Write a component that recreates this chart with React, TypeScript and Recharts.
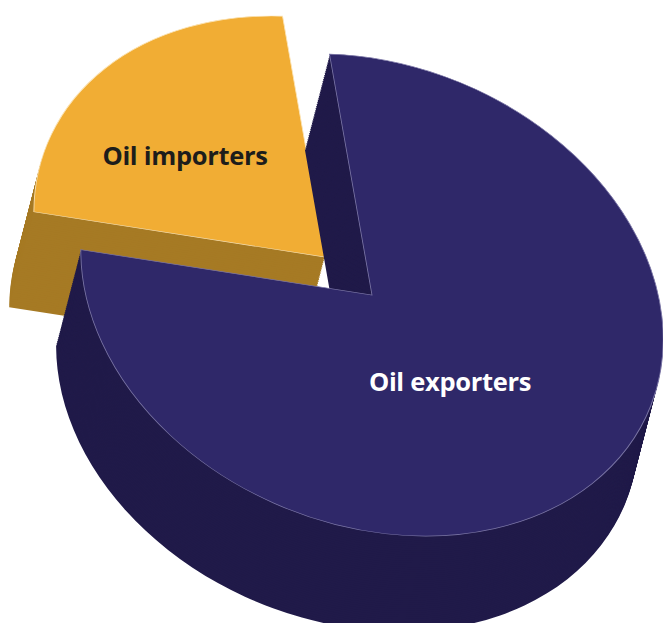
import { PieChart, Pie, Cell } from 'recharts'

const categories = ['Oil importers', 'Oil exporters']
const shares = [22.6, 77.4]
const topColors = ['#f1ad34', '#2f2869']
const sideColors = ['#a67a24', '#201a49']
const edgeColors = ['#fbe3b4', '#7b76a6']
const labelColors = ['#1d1d1b', '#ffffff']

const data = categories.map((name, i) => ({ name, value: shares[i] }))

// circle -> tilted ellipse (css / svg matrix a b c d) and its inverse
const M = [1.39077, 0.56191, -0.4308, 1.06626]
const MI = [0.61813, -0.32575, 0.24974, 0.80625]

const R = 200
const CX = 260
const CY = 230
const START = 115.6
const EXPLODE = [{ x: -38.5, y: -15.3 }, { x: 0, y: 0 }]
const DEPTH = { x: 8.6, y: 85 }
const LAYERS = 46
// label spot from slice apex, in circle space
const LABEL_POS = [
  [-112, -36.6],
  [69.7, 43.9],
]

const renderLabel = (p: any) => {
  const i = p.index
  const x = p.cx + LABEL_POS[i][0]
  const y = p.cy + LABEL_POS[i][1]
  return (
    <text
      x={0}
      y={0}
      transform={`translate(${x} ${y}) matrix(${MI.join(' ')} 0 0)`}
      textAnchor="middle"
      dominantBaseline="central"
      fill={labelColors[i]}
      style={{ fontFamily: '"Open Sans", sans-serif', fontWeight: 700, fontSize: 25.5, letterSpacing: -0.3 }}
    >
      {categories[i]}
    </text>
  )
}

function slab(idx: number) {
  const ox = EXPLODE[idx].x
  const oy = EXPLODE[idx].y
  const out = []
  for (let k = LAYERS; k >= 1; k--) {
    const f = k / LAYERS
    out.push(
      <Pie
        key={`side-${idx}-${k}`}
        data={data}
        dataKey="value"
        nameKey="name"
        cx={CX + ox + DEPTH.x * f}
        cy={CY + oy + DEPTH.y * f}
        outerRadius={R}
        startAngle={START}
        endAngle={START + 360}
        stroke="none"
        isAnimationActive={false}
      >
        {data.map((_, i) => (
          <Cell key={i} fill={i === idx ? sideColors[i] : 'none'} />
        ))}
      </Pie>
    )
  }
  out.push(
    <Pie
      key={`top-${idx}`}
      data={data}
      dataKey="value"
      nameKey="name"
      cx={CX + ox}
      cy={CY + oy}
      outerRadius={R}
      startAngle={START}
      endAngle={START + 360}
      labelLine={false}
      label={(p: any) => (p.index === idx ? renderLabel(p) : null)}
      isAnimationActive={false}
    >
      {data.map((_, i) => (
        <Cell
          key={i}
          fill={i === idx ? topColors[i] : 'none'}
          stroke={i === idx ? edgeColors[i] : 'none'}
          strokeWidth={0.6}
        />
      ))}
    </Pie>
  )
  return out
}

export default function App() {
  return (
    <div
      style={{
        position: 'absolute',
        left: 0,
        top: 0,
        width: 663,
        height: 623,
        overflow: 'hidden',
        background: '#fff',
      }}
    >
      <div
        style={{
          position: 'absolute',
          left: 372 - CX,
          top: 295 - CY,
          transformOrigin: `${CX}px ${CY}px`,
          transform: `matrix(${M.join(',')},0,0)`,
        }}
      >
        <PieChart width={520} height={560} margin={{ top: 0, right: 0, bottom: 0, left: 0 }}>
          {slab(0)}
          {slab(1)}
        </PieChart>
      </div>
    </div>
  )
}
